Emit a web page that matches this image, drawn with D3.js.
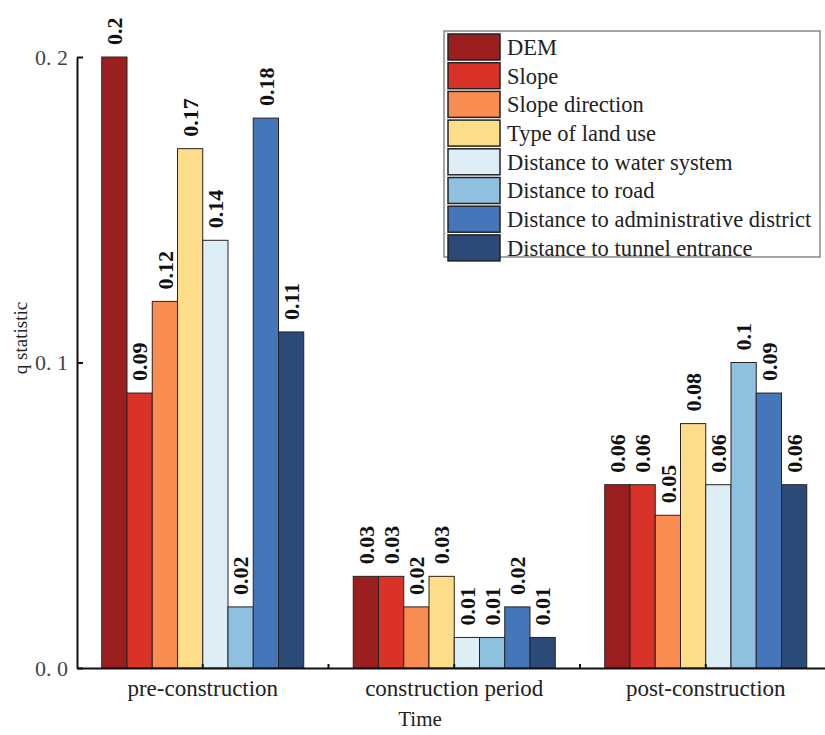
<!DOCTYPE html>
<html>
<head>
<meta charset="utf-8">
<script src="https://cdn.jsdelivr.net/npm/d3@7"></script>
<style>
    body { margin: 0; background: #fff; }
    svg text { font-family: "Liberation Serif", "DejaVu Serif", serif; }
</style>
</head>
<body>
<div id="chart"></div>
<script>
// chart data
const periods = ["pre-construction", "construction period", "post-construction"];
const factors = ["DEM", "Slope", "Slope direction", "Type of land use",
    "Distance to water system", "Distance to road",
    "Distance to administrative district", "Distance to tunnel entrance"];
const preValues = [0.2, 0.09, 0.12, 0.17, 0.14, 0.02, 0.18, 0.11];
const constructionValues = [0.03, 0.03, 0.02, 0.03, 0.01, 0.01, 0.02, 0.01];
const postValues = [0.06, 0.06, 0.05, 0.08, 0.06, 0.1, 0.09, 0.06];
const yTicks = [0, 0.1, 0.2];
const colors = ["#9c1f1f", "#d93228", "#f88c51", "#fddc8a", "#deeef7", "#8fc0e0", "#4476b9", "#2b4a78"];

const serif = "'Liberation Serif', 'DejaVu Serif', serif";

const seriesByPeriod = [preValues, constructionValues, postValues];
const data = [];
periods.forEach((p, i) => {
    factors.forEach((f, j) => {
        data.push({period: p, factor: f, value: seriesByPeriod[i][j]});
    });
});

const W = 825, H = 735;
const svg = d3.select("#chart").append("svg")
    .attr("width", W)
    .attr("height", H);

// scales
const x = d3.scaleBand()
    .domain(periods)
    .range([77, 831.5])
    .padding(0);

const groupWidth = 202;
const xInner = d3.scaleBand()
    .domain(factors)
    .range([-groupWidth / 2, groupWidth / 2])
    .padding(0);

const y = d3.scaleLinear()
    .domain([0, 0.2])
    .range([668, 57]);

const color = d3.scaleOrdinal().domain(factors).range(colors);

// bars
svg.append("g").selectAll("rect")
    .data(data)
    .enter()
    .append("rect")
    .attr("x", d => x(d.period) + x.bandwidth() / 2 + xInner(d.factor))
    .attr("y", d => y(d.value))
    .attr("width", xInner.bandwidth())
    .attr("height", d => y(0) - y(d.value))
    .attr("fill", d => color(d.factor))
    .attr("stroke", "#2a2222")
    .attr("stroke-width", 1);

// value labels
svg.append("g").selectAll("text")
    .data(data)
    .enter()
    .append("text")
    .attr("transform", d => "translate(" + (x(d.period) + x.bandwidth() / 2 + xInner(d.factor) + xInner.bandwidth() / 2) + "," + (y(d.value) - 12) + ") rotate(-90)")
    .attr("dy", "0.35em")
    .style("font-family", serif)
    .style("font-size", "22px")
    .style("font-weight", "bold")
    .style("fill", "#111")
    .text(d => d.value);

// y axis
const yAxis = svg.append("g")
    .attr("transform", "translate(77,0)")
    .call(d3.axisLeft(y)
        .tickValues(yTicks)
        .tickSizeInner(-6)
        .tickSizeOuter(0)
        .tickPadding(9)
        .tickFormat(d => d3.format(".1f")(d).replace(".", ". ")));
yAxis.select(".domain").attr("stroke", "#111").attr("stroke-width", 2);
yAxis.selectAll(".tick line").attr("stroke", "#111").attr("stroke-width", 2);
yAxis.selectAll(".tick text")
    .style("font-family", serif)
    .style("font-size", "22px")
    .style("fill", "#444");

// x axis
const xAxis = svg.append("g")
    .attr("transform", "translate(0,668)")
    .call(d3.axisBottom(x)
        .tickSizeInner(-4)
        .tickSizeOuter(0)
        .tickPadding(12));
xAxis.select(".domain").attr("stroke", "#111").attr("stroke-width", 2);
xAxis.selectAll(".tick line").attr("stroke", "#111").attr("stroke-width", 2);
xAxis.selectAll(".tick text")
    .style("font-family", serif)
    .style("font-size", "23px")
    .style("fill", "#222");

// minor ticks between groups
xAxis.selectAll(".minor")
    .data(periods.slice(1))
    .enter()
    .append("line")
    .attr("class", "minor")
    .attr("x1", d => x(d))
    .attr("x2", d => x(d))
    .attr("y1", 0)
    .attr("y2", -4)
    .attr("stroke", "#111")
    .attr("stroke-width", 2);

// axis titles
svg.append("text")
    .attr("x", 420)
    .attr("y", 726)
    .style("text-anchor", "middle")
    .style("font-family", serif)
    .style("font-size", "21px")
    .style("fill", "#222")
    .text("Time");

svg.append("text")
    .attr("transform", "rotate(-90)")
    .attr("x", -338)
    .attr("y", 27)
    .style("text-anchor", "middle")
    .style("font-family", serif)
    .style("font-size", "19px")
    .style("fill", "#222")
    .text("q statistic");

// legend
const legend = svg.append("g").attr("transform", "translate(444,31)");
legend.append("rect")
    .attr("width", 376)
    .attr("height", 226)
    .attr("fill", "#fff")
    .attr("stroke", "#888")
    .attr("stroke-width", 1.5);

const rowH = 28.7;
const rows = legend.selectAll(".row")
    .data(factors)
    .enter()
    .append("g")
    .attr("class", "row")
    .attr("transform", (d, i) => "translate(0," + (3 + i * rowH) + ")");

rows.append("rect")
    .attr("x", 4)
    .attr("width", 52)
    .attr("height", 26)
    .attr("fill", d => color(d))
    .attr("stroke", "#222")
    .attr("stroke-width", 1.5);

rows.append("text")
    .attr("x", 63)
    .attr("y", 13)
    .attr("dy", "0.35em")
    .style("font-family", serif)
    .style("font-size", "22.5px")
    .style("fill", "#222")
    .text(d => d);
</script>
</body>
</html>
